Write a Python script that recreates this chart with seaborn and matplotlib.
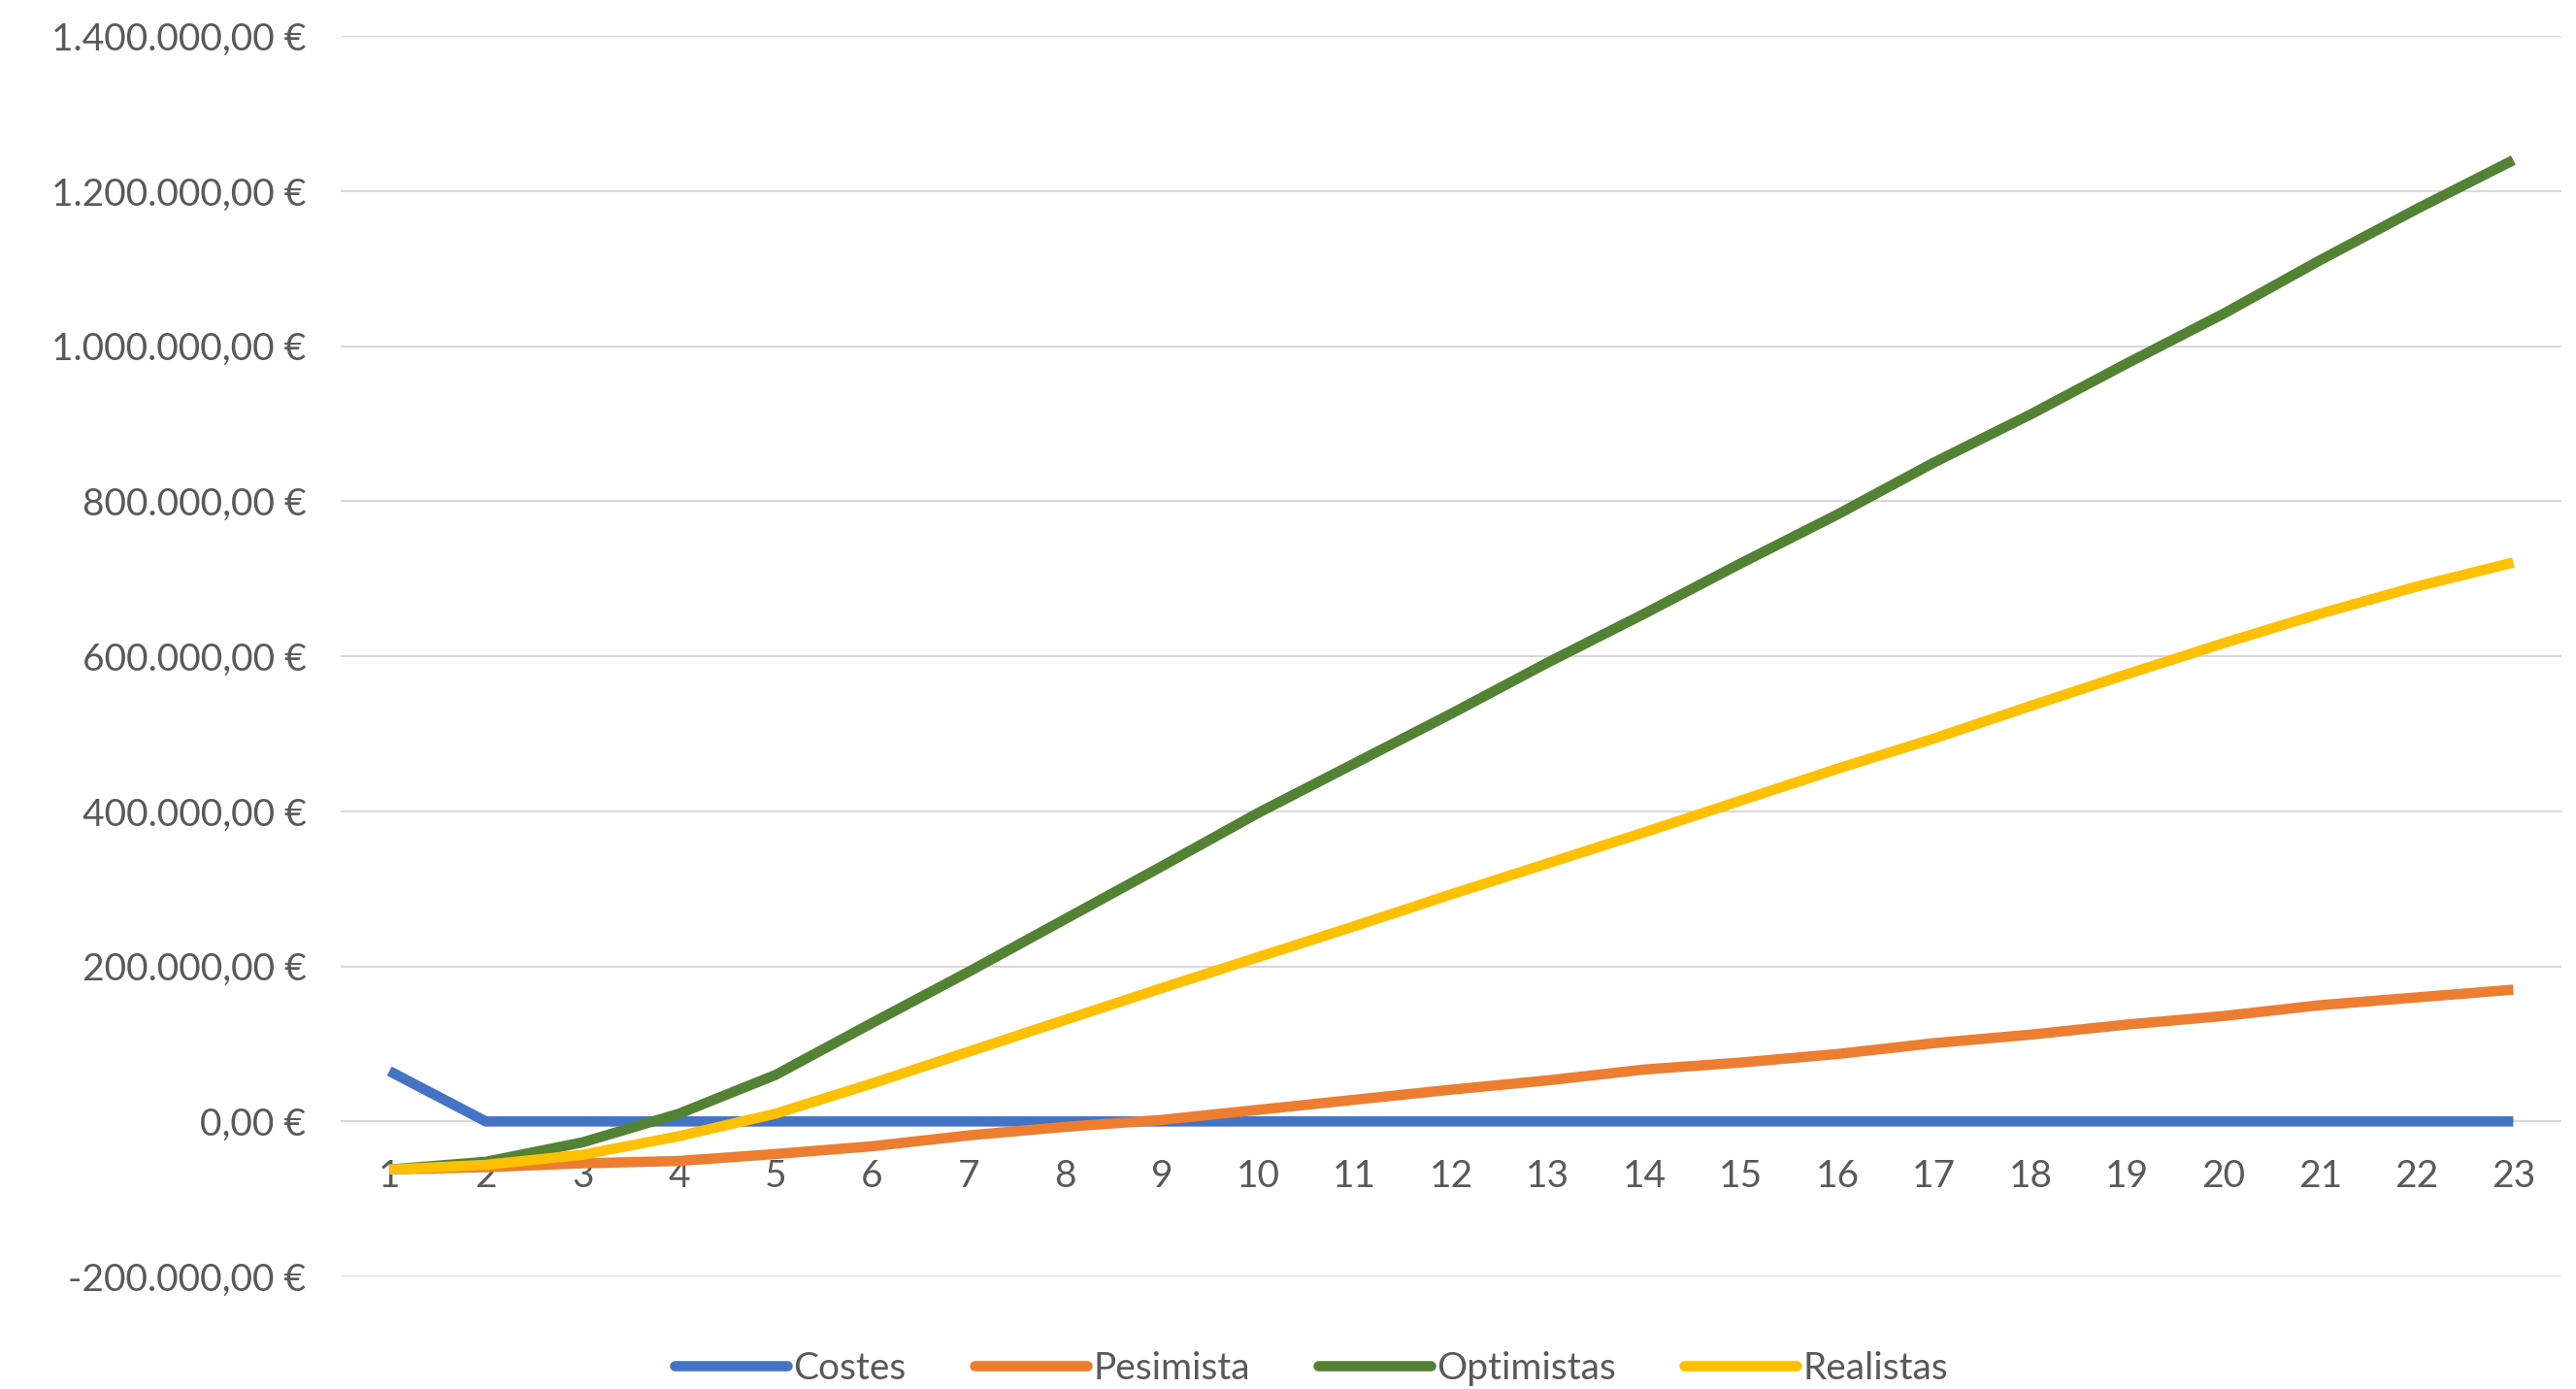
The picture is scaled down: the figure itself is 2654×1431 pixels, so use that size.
import pandas as pd
import matplotlib.pyplot as plt
import seaborn as sns
from matplotlib.ticker import FuncFormatter, MultipleLocator

# Data
periodos = list(range(1, 24))
costes = [65000] + [0] * 22
pesimista = [-62000, -59000, -54000, -51000, -42000, -32000, -18000, -7000, 2000, 15000,
             28000, 41000, 53000, 67000, 76000, 87000, 101000, 112000, 125000, 136000,
             150000, 160000, 170000]
optimistas = [-62000, -52000, -27000, 10000, 60000, 127000, 193000, 261000, 329000, 398000,
              462000, 526000, 592000, 655000, 720000, 783000, 850000, 912000, 978000, 1042000,
              1111000, 1177000, 1240000]
realistas = [-62000, -56000, -43000, -19000, 10000, 49000, 90000, 131000, 172000, 212000,
             252000, 293000, 333000, 373000, 414000, 455000, 494000, 536000, 577000, 617000,
             655000, 690000, 721000]
series = ["Costes", "Pesimista", "Optimistas", "Realistas"]
colores = ["#4472C4", "#ED7D31", "#548235", "#FFC000"]

df = pd.concat([
    pd.DataFrame({"periodo": periodos, "valor": vals, "serie": name})
    for name, vals in zip(series, [costes, pesimista, optimistas, realistas])
])

sns.set_style("white")
plt.rcParams["font.family"] = ["Lato", "DejaVu Sans"]

fig = plt.figure(figsize=(13.27, 7.155), dpi=200)
ax = fig.add_axes([0.1324, 0.081, 0.862, 0.893])

sns.lineplot(data=df, x="periodo", y="valor", hue="serie", hue_order=series,
             palette=colores, linewidth=3.8, ax=ax, legend=False)
for line in ax.get_lines():
    line.set_solid_capstyle("butt")
    line.set_solid_joinstyle("round")

def euros(v, pos):
    s = f"{v:,.2f}".replace(",", "X").replace(".", ",").replace("X", ".")
    return s + " €"

ax.set_ylim(-200000, 1400000)
ax.set_xlim(0.5, 23.5)
ax.yaxis.set_major_locator(MultipleLocator(200000))
ax.yaxis.set_major_formatter(FuncFormatter(euros))
ax.set_xticks(periodos)
ax.set_xticklabels([str(p) for p in periodos])
ax.grid(axis="y", color="#D9D9D9", linewidth=0.75)
ax.set_axisbelow(True)
for side in ["top", "right", "left"]:
    ax.spines[side].set_visible(False)
ax.spines["bottom"].set_position(("data", 0))
ax.spines["bottom"].set_visible(False)
ax.tick_params(axis="y", length=0, pad=13, labelsize=14, labelcolor="#595959")
ax.tick_params(axis="x", length=0, pad=14, labelsize=14, labelcolor="#595959")
ax.set_xlabel("")
ax.set_ylabel("")

handles = [plt.Line2D([], [], color=c, linewidth=3.8) for c in colores]
fig.legend(handles, series, loc="center", bbox_to_anchor=(0.509, 0.015), ncol=4,
           frameon=False, fontsize=14, labelcolor="#595959", handlelength=3.0,
           handletextpad=0.15, columnspacing=1.8)

fig.savefig("out.png", dpi=200)
